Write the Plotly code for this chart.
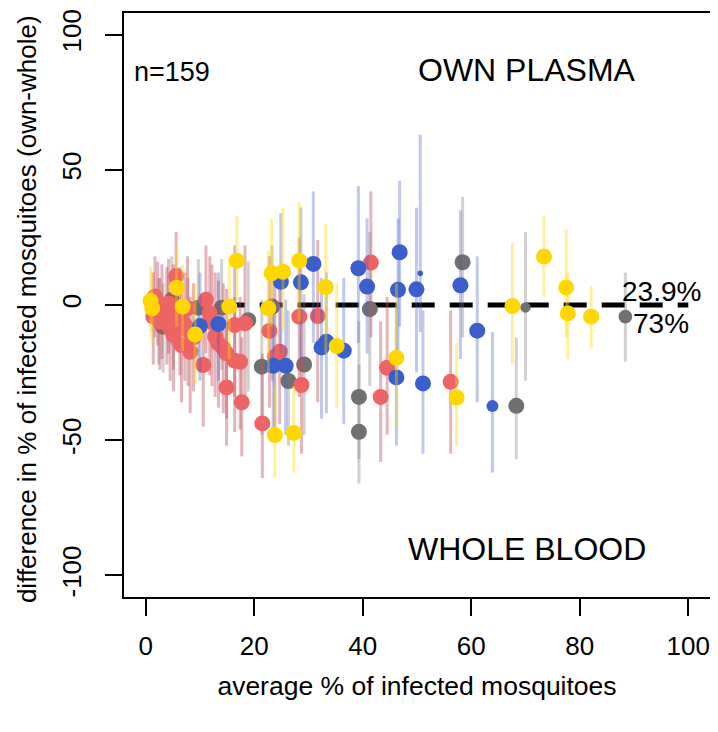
import plotly.graph_objects as go

# ---------------- data ----------------
red_x  = [5.6, 1.7, 1.4, 2.6, 4.2, 3.9, 5.1, 7.7, 6.3, 7.2, 7.8, 5.1, 6.6, 8.2, 11.1, 11.8, 12.2, 10.6,
          12.8, 13.4, 14.3, 14.9, 16.4, 14.9, 16.4, 18.3, 17.7, 17.4, 22.8, 28.3, 31.7, 24.7, 23.8, 28.7,
          21.5, 41.5, 44.5, 43.3, 56.2, 2.2, 3.0, 4.5, 8.8]
red_y  = [10.7, 3.1, -4.3, -6.2, 0.6, -3.7, -4.3, -1.2, -5.6, -7.4, -9.3, -11.1, -14.8, -17.3, 1.9, -3.1, -6.2, -22.2,
          -11.7, -14.2, -16.0, -17.9, -20.6, -30.5, -7.4, -6.8, -36.0, -21.0, -9.6, -4.3, -4.1, -17.3, -19.1, -29.6,
          -43.8, 15.7, -23.2, -34.0, -28.4, 0.5, -2.5, -8.5, -12.0]
red_hi = [27, 18, 12, 10, 17, 14, 15, 18, 14, 12, 10, 8, 6, 3, 22, 18, 15, -3,
          12, 9, 8, 6, 3, -8, 22, 22, -12, 3, 18, 25, 24, 10, 8, -3,
          -18, 42, 3, -6, -2, 16, 15, 10, 8]
red_lo = [-14, -12, -22, -24, -18, -22, -24, -20, -26, -28, -30, -32, -36, -40, -18, -26, -30, -45,
          -34, -38, -40, -42, -47, -52, -34, -36, -56, -46, -38, -34, -36, -44, -46, -55,
          -64, -12, -48, -58, -55, -15, -20, -28, -32]
red_w  = [1] * len(red_x)

gray_x  = [3.2, 4.8, 9.7, 14.0, 18.9, 23.3, 21.4, 29.2, 26.3, 39.3, 39.3, 41.3, 58.4, 68.3, 70.0, 88.4, 2.4]
gray_y  = [-8.0, 1.9, -1.0, -1.0, -5.6, -0.6, -22.8, -22.0, -28.1, -34.0, -46.9, -1.5, 15.8, -37.3, -0.9, -4.3, -5.0]
gray_hi = [8, 18, 17, 17, 16, 22, 2, 4, -2, -6, -22, 27, 40, -12, 27, 12, 10]
gray_lo = [-25, -15, -21, -24, -32, -28, -48, -48, -52, -57, -66, -30, -12, -57, -28, -21, -22]
gray_w  = [1, 1, 1, 1, 1, 1, 1, 1, 1, 1, 1, 1, 1, 1, 0.65, 0.85, 1]

blue_x  = [10.0, 13.4, 24.9, 30.9, 28.6, 39.2, 32.4, 33.3, 36.5, 23.5, 25.8, 40.8, 46.8, 46.5, 50.6, 49.9,
           58.0, 46.2, 51.1, 61.1, 63.9]
blue_y  = [-7.8, -7.0, 8.6, 15.2, 8.4, 13.6, -15.7, -13.6, -16.9, -22.5, -22.5, 6.8, 19.5, 5.6, 11.7, 5.8,
           7.3, -26.8, -29.0, -9.5, -37.4]
blue_hi = [12, 12, 34, 42, 36, 44, 10, 12, 10, 2, 2, 32, 46, 32, 63, 36, 35, 0, -2, 18, -10]
blue_lo = [-28, -28, -18, -14, -20, -14, -42, -40, -44, -48, -48, -18, -8, -20, -10, -25, -20, -52, -55, -36, -62]
blue_w  = [1, 1, 1, 1, 1, 1, 1, 1, 1, 1, 1, 1, 1, 1, 0.35, 1, 1, 1, 1, 1, 0.75]

yel_x  = [5.7, 16.8, 0.9, 1.2, 6.8, 9.1, 15.4, 23.2, 25.3, 28.3, 33.2, 22.6, 35.2, 23.8, 27.3, 46.2, 57.3,
          67.6, 73.4, 77.5, 77.8, 82.1]
yel_y  = [6.4, 16.4, 1.5, -1.2, -0.6, -10.9, -0.6, 11.7, 12.3, 16.4, 6.6, -1.2, -15.2, -48.1, -47.3, -19.5, -34.2,
          -0.4, 17.9, 6.5, -3.1, -4.3]
yel_hi = [22, 33, 14, 12, 15, 8, 17, 32, 36, 38, 30, 20, 8, -30, -30, 8, -14, 23, 33, 28, 12, 7]
yel_lo = [-8, 2, -10, -14, -17, -29, -20, -8, -10, -6, -18, -25, -38, -64, -62, -45, -52, -22, 3, -12, -20, -16]
yel_w  = [1] * len(yel_x)

x_ticks = [0, 20, 40, 60, 80, 100]
y_ticks = [-100, -50, 0, 50, 100]
y_tick_labels = ["-100", "-50", "0", "50", "100"]
ref_line_x = [0, 100]
ref_line_y = [0, 0]
pct_above = "23.9%"
pct_below = "73%"
n_label = "n=159"
x_title = "average % of infected mosquitoes"
y_title = "difference in % of infected mosquitoes (own-whole)"

# ---------------- styling ----------------
FONT = "Liberation Sans, Arial, sans-serif"
BASE = 16  # marker diameter (px) for weight 1

groups = [
    (gray_x, gray_y, gray_hi, gray_lo, gray_w, "#707070", "rgba(120,120,120,0.34)"),
    (red_x, red_y, red_hi, red_lo, red_w, "#EE6363", "rgba(190,80,95,0.42)"),
    (blue_x, blue_y, blue_hi, blue_lo, blue_w, "#3A5FCD", "rgba(70,95,200,0.34)"),
    (yel_x, yel_y, yel_hi, yel_lo, yel_w, "#FFD700", "rgba(255,215,0,0.38)"),
]

fig = go.Figure()

fig.add_trace(go.Scatter(
    x=ref_line_x, y=ref_line_y, mode="lines",
    line=dict(color="black", width=5, dash="23px,15px"),
    hoverinfo="skip", showlegend=False))

for gx, gy, ghi, glo, gw, col, ecol in groups:
    fig.add_trace(go.Scatter(
        x=gx, y=gy, mode="markers",
        marker=dict(color=col, size=[BASE * w for w in gw], line=dict(width=0), opacity=1),
        error_y=dict(type="data", symmetric=False,
                     array=[h - v for h, v in zip(ghi, gy)],
                     arrayminus=[v - l for v, l in zip(gy, glo)],
                     color=ecol, thickness=3, width=0),
        showlegend=False))

annos = [
    dict(x=-2.6, y=86, text=n_label, xanchor="left", font=dict(size=27)),
    dict(x=70.3, y=87, text="OWN PLASMA", font=dict(size=32)),
    dict(x=70.3, y=-90.4, text="WHOLE BLOOD", font=dict(size=32)),
    dict(x=95, y=4.9, text=pct_above, font=dict(size=28)),
    dict(x=95, y=-6.7, text=pct_below, font=dict(size=28)),
]
for a in annos:
    a.update(xref="x", yref="y", showarrow=False)
    a["font"].update(family=FONT, color="black")

# rotated y-axis title placed as paper annotation (slightly below the plot centre)
annos.append(dict(xref="paper", yref="paper", x=-0.1655, y=0.493, text=y_title,
                  textangle=-90, showarrow=False, xanchor="center", yanchor="middle",
                  font=dict(family=FONT, size=26, color="black")))

axis_common = dict(
    showgrid=False, zeroline=False, showline=True, mirror=True, automargin=False,
    linecolor="black", linewidth=2, ticks="outside", ticklen=17, tickwidth=2,
    tickcolor="black", tickfont=dict(family=FONT, size=26, color="black"),
)

# the page body adds an 8px offset, so the figure is sized/margined to compensate
fig.update_layout(
    width=710, height=724,
    margin=dict(l=116, r=8, t=5, b=135),
    paper_bgcolor="white", plot_bgcolor="white",
    annotations=annos,
    xaxis=dict(range=[-4, 104], tickvals=x_ticks, ticklabelstandoff=8, **axis_common,
               title=dict(text=x_title, standoff=16,
                          font=dict(family=FONT, size=26.5, color="black"))),
    yaxis=dict(range=[-108, 108], tickvals=y_ticks, ticktext=y_tick_labels, tickangle=-90,
               ticklabelstandoff=14, **axis_common),
)

fig.write_html("out.html")
